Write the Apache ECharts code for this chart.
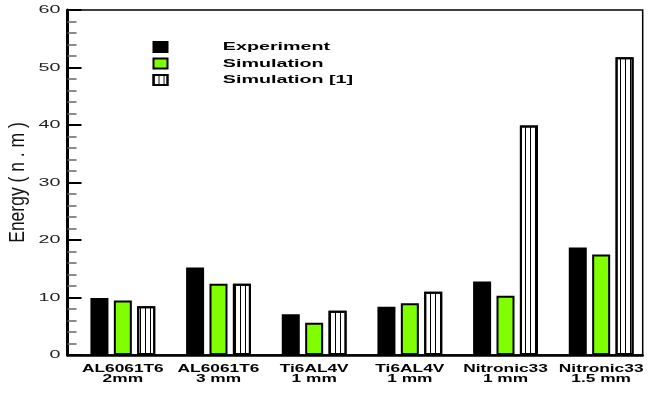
<!DOCTYPE html>
<html>
<head>
<meta charset="utf-8">
<script src="https://cdn.jsdelivr.net/npm/echarts@6/dist/echarts.min.js"></script>
<style>
  html, body { margin: 0; padding: 0; background: #fff; }
  #chart { width: 649px; height: 393px; }
</style>
</head>
<body>
<div id="chart"></div>
<script>
// Impact energy per material / thickness
const categories = [
  'AL6061T6\n2mm',
  'AL6061T6\n3 mm',
  'Ti6AL4V\n1 mm',
  'Ti6AL4V\n1 mm',
  'Nitronic33\n1 mm',
  'Nitronic33\n1.5 mm'
];
const seriesNames = ['Experiment', 'Simulation', 'Simulation [1]'];
const experiment    = [9.9, 15.2, 7.1, 8.4, 12.8, 18.7];
const simulation    = [9.5, 12.4, 5.6, 9.0, 10.3, 17.5];
const simulationRef = [8.5, 12.4, 7.7, 11.0, 39.9, 51.8];
const yMin = 0, yMax = 60, yStep = 10;
const yName = 'Energy ( n . m )';

// horizontal widening applied to the lettering
const STRETCH = 1.7;
const NAME_STRETCH = 1.25;

const chart = echarts.init(document.getElementById('chart'), null, { renderer: 'canvas', width: 649, height: 393 });

const barStyle = (fill) => ({ color: fill, borderColor: '#000', borderWidth: 2 });

chart.setOption({
  animation: false,
  backgroundColor: '#fff',
  textStyle: { fontFamily: "'Liberation Sans', Arial, sans-serif" },
  grid: [
    { left: 67.5, right: 6.3, top: 10, bottom: 38, show: true, borderColor: '#000', borderWidth: 1.5,
      backgroundColor: 'transparent', outerBoundsMode: 'none' },
    { left: 75, right: 0, top: 10, bottom: 38, outerBoundsMode: 'none' }
  ],
  legend: {
    orient: 'vertical', left: 152.5, top: 41, padding: 0,
    itemWidth: 14, itemHeight: 10, itemGap: 4.5, icon: 'rect', selectedMode: false,
    data: seriesNames,
    textStyle: { fontSize: 11.6, fontWeight: 'bold', color: '#000', padding: [0, 0, 0, 37 / STRETCH] }
  },
  xAxis: [
    { gridIndex: 0, type: 'value', min: 0, max: 1,
      axisLine: { show: true, lineStyle: { color: '#000', width: 2.5 } },
      axisTick: { show: false }, axisLabel: { show: false }, splitLine: { show: false } },
    { gridIndex: 1, type: 'category', data: categories,
      axisLine: { show: false }, axisTick: { show: false }, splitLine: { show: false },
      axisLabel: { interval: 0, hideOverlap: false, margin: 9, color: '#000',
        fontWeight: 'bold', fontSize: 10.2, lineHeight: 10 } }
  ],
  yAxis: [
    { gridIndex: 0, type: 'value', min: yMin, max: yMax, interval: yStep,
      name: yName, nameLocation: 'middle', nameGap: 38,
      nameTextStyle: { fontSize: 17.5, color: '#111' },
      axisLine: { show: true, lineStyle: { color: '#000', width: 3 } },
      axisTick: { show: true, inside: true, length: 14, lineStyle: { color: '#000', width: 2 } },
      minorTick: { show: true, splitNumber: 5, length: 9, lineStyle: { color: '#666', width: 1.5 } },
      axisLabel: { margin: 7, color: '#222', fontSize: 11.6 },
      splitLine: { show: false }, minorSplitLine: { show: false } },
    { gridIndex: 1, type: 'value', min: yMin, max: yMax, show: false }
  ],
  series: [
    { name: seriesNames[0], type: 'bar', xAxisIndex: 1, yAxisIndex: 1, data: experiment,
      barWidth: 18, barGap: '30%', itemStyle: barStyle('#000') },
    { name: seriesNames[1], type: 'bar', xAxisIndex: 1, yAxisIndex: 1, data: simulation,
      barWidth: 18, barGap: '30%', itemStyle: barStyle('#80ff00') },
    { name: seriesNames[2], type: 'bar', xAxisIndex: 1, yAxisIndex: 1, data: simulationRef,
      barWidth: 18, barGap: '30%',
      itemStyle: Object.assign(barStyle('#fff'), {
        decal: { symbol: 'rect', symbolSize: 1, dashArrayX: [1, 4], dashArrayY: [4, 0], rotation: 0, color: '#000' }
      }) }
  ]
});

// widen every text element around its own anchor point
function widenTexts() {
  const zr = chart.getZr();
  const visit = (el) => {
    if (el && el.type === 'text') {
      if (Math.abs(el.rotation || 0) > 1e-6) el.scaleY = NAME_STRETCH;
      else el.scaleX = STRETCH;
      el.markRedraw();
    }
  };
  zr.storage.getRoots().forEach((r) => {
    visit(r);
    if (r.traverse) r.traverse(visit);
  });
  zr.refresh();
}
widenTexts();
</script>
</body>
</html>
